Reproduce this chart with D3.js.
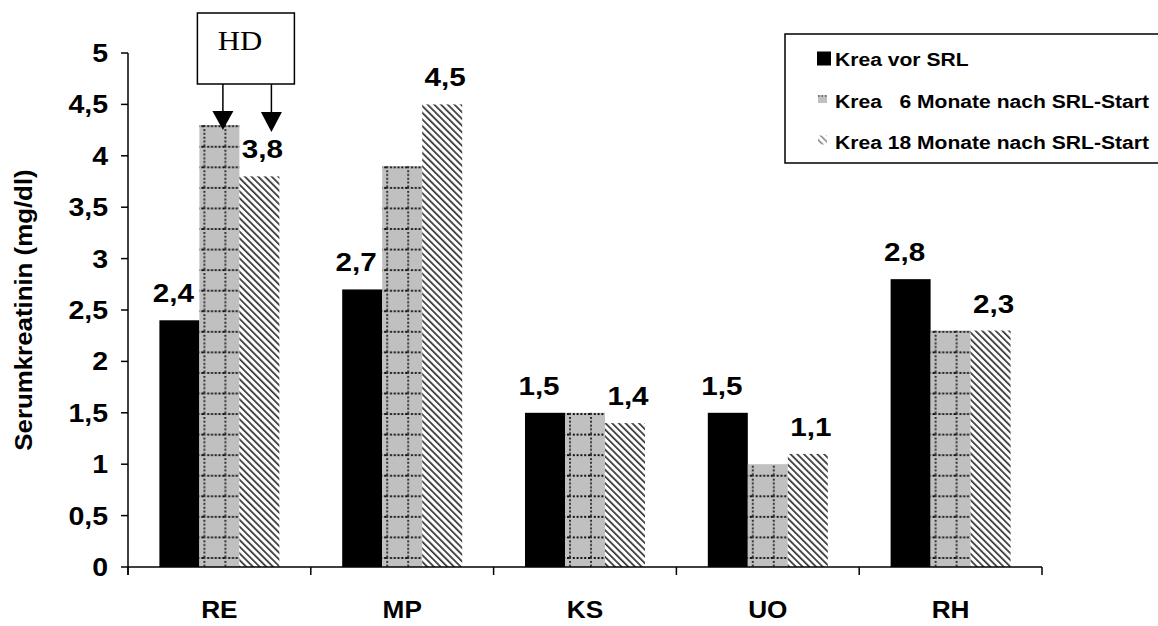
<!DOCTYPE html>
<html>
<head>
<meta charset="utf-8">
<script src="https://cdn.jsdelivr.net/npm/d3@7"></script>
<style>
  html, body { margin: 0; padding: 0; background: #fff; }
  svg { display: block; }
  text { font-family: "Liberation Sans", Arial, sans-serif; font-weight: bold; fill: #000; }
</style>
</head>
<body>
<svg id="chart" width="1158" height="626"></svg>
<script>
// Serum creatinine per patient, before and after SRL start
const categories = ["RE", "MP", "KS", "UO", "RH"];
const seriesNames = ["Krea vor SRL", "Krea   6 Monate nach SRL-Start", "Krea 18 Monate nach SRL-Start"];
const kreaVor = [2.4, 2.7, 1.5, 1.5, 2.8];
const krea6 = [4.3, 3.9, 1.5, 1.0, 2.3];
const krea18 = [3.8, 4.5, 1.4, 1.1, 2.3];
const yTicks = [0, 0.5, 1, 1.5, 2, 2.5, 3, 3.5, 4, 4.5, 5];
const yTitle = "Serumkreatinin (mg/dl)";
const noteText = "HD";

const series = [kreaVor, krea6, krea18];
const labelledSeries = [0, 2];
const fmt = v => d3.format(".1f")(v).replace(".", ",").replace(",0", "");
const tickFmt = v => String(v).replace(".", ",");

const svg = d3.select("#chart");
const SX = 1.14; // glyphs are drawn slightly wide

const plot = { left: 128, right: 1042, top: 53, bottom: 567 };

const x0 = d3.scaleBand().domain(categories).range([plot.left, plot.right]).padding(0);
const x1 = d3.scaleBand().domain([0, 1, 2]).range([0, x0.bandwidth()])
  .paddingInner(0).paddingOuter(0.785);
const y = d3.scaleLinear().domain([0, 5]).range([plot.bottom, plot.top]);

// ---------- patterns ----------
const defs = svg.append("defs");

const hatch = defs.append("pattern")
  .attr("id", "hatch").attr("patternUnits", "userSpaceOnUse")
  .attr("width", 4.74).attr("height", 10)
  .attr("patternTransform", "rotate(-45)");
hatch.append("rect").attr("width", 4.74).attr("height", 10).attr("fill", "#fff");
hatch.append("rect").attr("x", 0).attr("width", 1.7).attr("height", 10).attr("fill", "#333");

const gridStepY = (y(0) - y(1)) / 5;
function gridPattern(id, x0pos) {
  const p = defs.append("pattern")
    .attr("id", id).attr("patternUnits", "userSpaceOnUse")
    .attr("x", x0pos).attr("y", y(0) - 10)
    .attr("width", 21).attr("height", gridStepY);
  p.append("rect").attr("width", 21).attr("height", gridStepY).attr("fill", "#c0c0c0");
  p.append("line").attr("x1", 0).attr("x2", 21).attr("y1", 1).attr("y2", 1)
    .attr("stroke", "#111").attr("stroke-width", 2).attr("stroke-dasharray", "2,1.8");
  p.append("line").attr("x1", 1).attr("x2", 1).attr("y1", 0).attr("y2", gridStepY)
    .attr("stroke", "#333").attr("stroke-width", 2).attr("stroke-dasharray", "2,1.8");
  return "url(#" + id + ")";
}

// ---------- bars ----------
const gBars = svg.append("g");
categories.forEach((c, i) => {
  series.forEach((vals, s) => {
    const bx = x0(c) + x1(s);
    const bw = x1.bandwidth();
    let fill;
    if (s === 0) fill = "#000";
    else if (s === 1) fill = gridPattern("grid" + i, bx + 4);
    else fill = "url(#hatch)";
    gBars.append("rect")
      .attr("x", bx).attr("y", y(vals[i]))
      .attr("width", bw).attr("height", y(0) - y(vals[i]))
      .attr("fill", fill);
  });
});

// ---------- value labels ----------
const gLab = svg.append("g");
categories.forEach((c, i) => {
  labelledSeries.forEach(s => {
    const cx = x0(c) + x1(s) + x1.bandwidth() / 2 + (s === 0 ? -6 : 3);
    gLab.append("text")
      .attr("transform", `translate(${cx},${y(series[s][i]) - 18}) scale(${SX},1)`)
      .attr("text-anchor", "middle")
      .style("font-size", "26px")
      .text(fmt(series[s][i]));
  });
});

// ---------- axes ----------
const gAxis = svg.append("g").attr("stroke", "#000").attr("stroke-width", 1.5);
gAxis.append("line").attr("x1", plot.left).attr("x2", plot.left)
  .attr("y1", y(5)).attr("y2", y(0) + 8);
gAxis.append("line").attr("x1", plot.left).attr("x2", plot.right)
  .attr("y1", y(0)).attr("y2", y(0));
yTicks.forEach(t => {
  gAxis.append("line").attr("x1", plot.left - 7).attr("x2", plot.left)
    .attr("y1", y(t)).attr("y2", y(t));
});
const boundaries = categories.map(c => x0(c)).concat([plot.right]);
boundaries.forEach(b => {
  gAxis.append("line").attr("x1", b).attr("x2", b)
    .attr("y1", y(0)).attr("y2", y(0) + 8);
});

const gTickLab = svg.append("g");
yTicks.forEach(t => {
  gTickLab.append("text")
    .attr("transform", `translate(108,${y(t) + 9}) scale(${SX},1)`)
    .attr("text-anchor", "end")
    .style("font-size", "25px")
    .text(tickFmt(t));
});
categories.forEach(c => {
  gTickLab.append("text")
    .attr("transform", `translate(${x0(c) + x0.bandwidth() / 2},618) scale(${SX},1)`)
    .attr("text-anchor", "middle")
    .style("font-size", "23px")
    .text(c);
});

svg.append("text")
  .attr("transform", `translate(32,${(y(0) + y(5)) / 2}) scale(1,1.1) rotate(-90)`)
  .attr("text-anchor", "middle")
  .style("font-size", "23.5px")
  .text(yTitle);

// ---------- HD note with arrows ----------
const reX = x0("RE");
const gNote = svg.append("g");
const boxL = reX + x1(1) - 2, boxR = reX + x1(2) + x1.bandwidth() + 15;
gNote.append("rect").attr("x", boxL).attr("y", 13)
  .attr("width", boxR - boxL).attr("height", 71)
  .attr("fill", "#fff").attr("stroke", "#000").attr("stroke-width", 1.5);
gNote.append("text")
  .attr("transform", `translate(${(boxL + boxR) / 2 - 6},50) scale(${SX},1)`)
  .attr("text-anchor", "middle")
  .style("font-family", "'Liberation Serif', 'Times New Roman', serif")
  .style("font-weight", "normal")
  .style("font-size", "27px")
  .text(noteText);
[[1, 3.5, 111, 130], [2, 12, 112, 132]].forEach(([s, off, base, tip]) => {
  const ax = reX + x1(s) + x1.bandwidth() / 2 + off;
  gNote.append("line").attr("x1", ax).attr("x2", ax).attr("y1", 84).attr("y2", base)
    .attr("stroke", "#000").attr("stroke-width", 1.5);
  gNote.append("path")
    .attr("d", `M${ax - 10.5},${base} L${ax + 10.5},${base} L${ax},${tip} Z`)
    .attr("fill", "#000");
});

// ---------- legend ----------
const gLeg = svg.append("g");
gLeg.append("rect").attr("x", 785).attr("y", 34).attr("width", 380).attr("height", 129)
  .attr("fill", "#fff").attr("stroke", "#000").attr("stroke-width", 1.5);
const rowBase = [65.5, 108, 148.5];
seriesNames.forEach((name, s) => {
  const b = rowBase[s];
  if (s === 0) {
    gLeg.append("rect").attr("x", 817).attr("y", b - 14).attr("width", 14).attr("height", 14).attr("fill", "#000");
  } else if (s === 1) {
    gLeg.append("rect").attr("x", 818).attr("y", b - 13).attr("width", 9).attr("height", 8).attr("fill", "#c0c0c0");
    gLeg.append("line").attr("x1", 818).attr("x2", 827).attr("y1", b - 12).attr("y2", b - 12)
      .attr("stroke", "#555").attr("stroke-width", 1.5).attr("stroke-dasharray", "1.5,2");
  } else {
    gLeg.append("rect").attr("x", 818).attr("y", b - 13).attr("width", 9).attr("height", 9)
      .attr("fill", "url(#hatch)").attr("opacity", 0.55);
  }
  gLeg.append("text")
    .attr("transform", `translate(835,${b}) scale(${SX},1)`)
    .attr("xml:space", "preserve")
    .style("white-space", "pre")
    .style("font-size", "18.5px")
    .text(name);
});
</script>
</body>
</html>
